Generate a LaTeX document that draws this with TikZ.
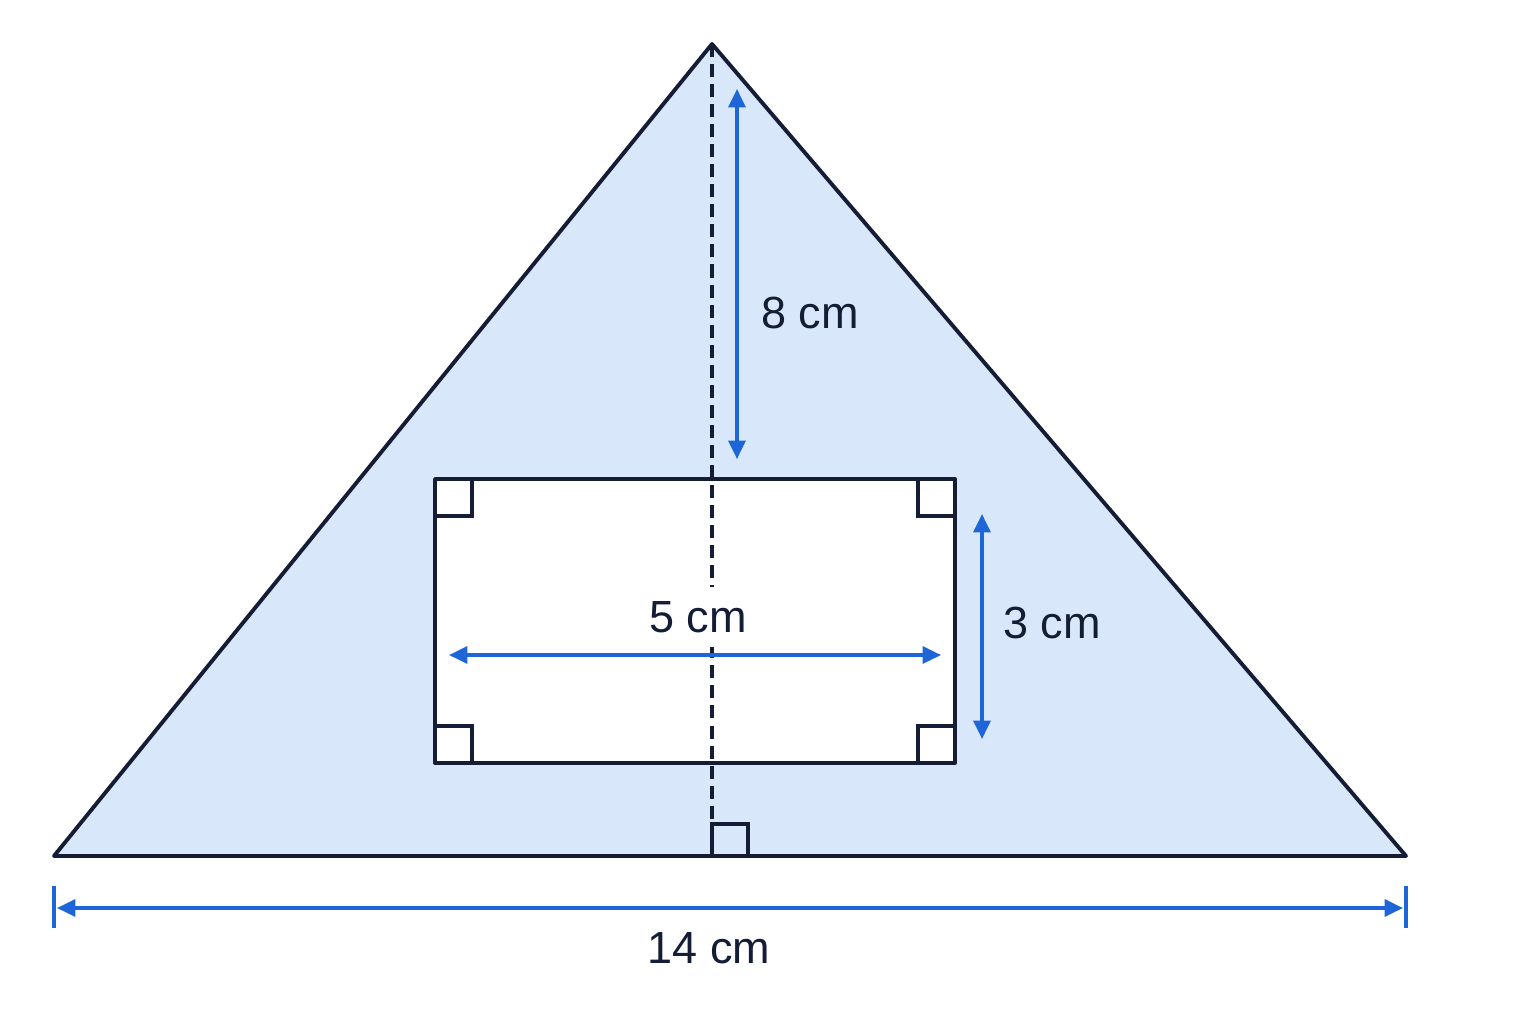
\documentclass[tikz,border=0pt]{standalone}
\usepackage{fontspec}
\setmainfont{Liberation Sans}
\usetikzlibrary{arrows.meta}
\definecolor{navy}{HTML}{141C36}
\definecolor{dimblue}{HTML}{1E66D8}
\definecolor{lightfill}{HTML}{D8E8FA}
\begin{document}
\begin{tikzpicture}[x=0.01cm,y=-0.01cm,
  outline/.style={draw=navy,line width=1.1pt,line join=round},
  marks/.style={draw=navy,line width=0.95pt},
  dimline/.style={draw=dimblue,line width=0.95pt,{Triangle[length=5.2pt,width=4.8pt]}-{Triangle[length=5.2pt,width=4.8pt]}},
  tickline/.style={draw=dimblue,line width=0.95pt},
  heightline/.style={draw=navy,line width=0.9pt,dash pattern=on 3.7pt off 2pt},
  lbl/.style={text=navy,font=\fontsize{12.8}{15}\selectfont,inner sep=1pt}]
\useasboundingbox (0,0) rectangle (1536,1024);
\fill[white] (0,0) rectangle (1536,1024);
% triangle
\coordinate (A) at (712,44);
\coordinate (B) at (54,856);
\coordinate (C) at (1406,856);
\coordinate (H) at (712,856);
\fill[lightfill] (A) -- (B) -- (C) -- cycle;
% rectangle
\coordinate (R1) at (435,479);
\coordinate (R2) at (955,763);
\fill[white] (R1) rectangle (R2);
% height (dashed)
\draw[heightline] (A) -- (H);
% right angle at base
\draw[marks] (712,856) -- (712,824) -- (748,824) -- (748,856);
% rectangle outline and corner marks
\draw[outline] (R1) rectangle (R2);
\draw[marks] (435,516) -- (472,516) -- (472,479);
\draw[marks] (918,479) -- (918,516) -- (955,516);
\draw[marks] (435,726) -- (472,726) -- (472,763);
\draw[marks] (918,763) -- (918,726) -- (955,726);
% triangle outline
\draw[outline] (A) -- (B) -- (C) -- cycle;
% 8 cm
\coordinate (e1) at (737,89);
\coordinate (e2) at (737,459);
\draw[dimline] (e1) -- (e2);
\node[lbl,anchor=west] (l8) at (757,313) {8 cm};
% 3 cm
\coordinate (t1) at (982,514);
\coordinate (t2) at (982,739);
\draw[dimline] (t1) -- (t2);
\node[lbl,anchor=west] (l3) at (999,623) {3 cm};
% 5 cm
\coordinate (f1) at (449,655);
\coordinate (f2) at (941,655);
\draw[dimline] (f1) -- (f2);
\node[lbl,fill=white,inner sep=4pt] (l5) at (698,617) {5 cm};
% 14 cm
\coordinate (k1) at (54,886);
\coordinate (k2) at (54,928);
\coordinate (k3) at (1406,886);
\coordinate (k4) at (1406,928);
\draw[tickline] (k1) -- (k2);
\draw[tickline] (k3) -- (k4);
\coordinate (w1) at (57,908);
\coordinate (w2) at (1403,908);
\draw[dimline] (w1) -- (w2);
\node[lbl] (l14) at (709,948) {14 cm};
\end{tikzpicture}
\end{document}
